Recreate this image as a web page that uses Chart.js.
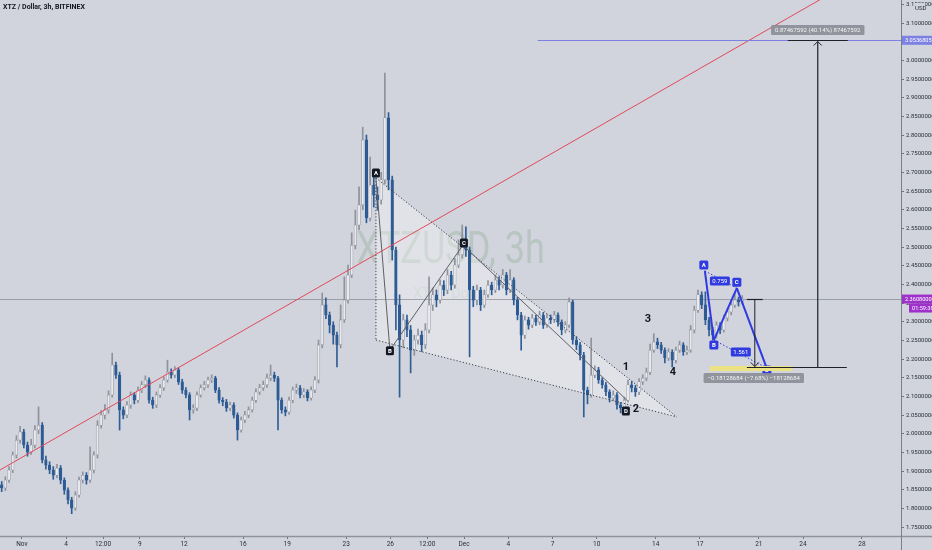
<!DOCTYPE html>
<html>
<head>
<meta charset="utf-8">
<script src="https://cdn.jsdelivr.net/npm/chart.js@4.4.0/dist/chart.umd.min.js"></script>
<style>
  html, body { margin: 0; padding: 0; background: #d1d4dc; overflow: hidden; }
  canvas { display: block; }
</style>
</head>
<body>
<canvas id="grafico" width="932" height="550"></canvas>
<script>
// XTZ / Dollar, velas de 6h (preços em USD)
const firstCandleDay = -0.375;   // dias contados a partir de 31 out
const candleStepDay = 0.25;

const opens = [1.863,1.855,1.876,1.903,1.943,1.983,2.005,1.970,1.951,1.970,
2.010,2.023,1.930,1.916,1.903,1.889,1.908,1.876,1.849,1.823,
1.801,1.836,1.876,1.889,1.876,1.903,1.943,2.023,2.050,2.064,
2.104,2.184,2.157,2.064,2.050,2.077,2.104,2.090,2.117,2.131,
2.144,2.090,2.077,2.104,2.123,2.144,2.165,2.157,2.171,2.139,
2.117,2.104,2.064,2.069,2.104,2.123,2.131,2.144,2.149,2.117,
2.090,2.085,2.069,2.077,2.050,2.010,2.037,2.050,2.064,2.090,
2.112,2.123,2.131,2.149,2.157,2.149,2.090,2.064,2.058,2.090,
2.117,2.123,2.104,2.112,2.096,2.117,2.144,2.238,2.345,2.318,
2.291,2.264,2.238,2.305,2.358,2.425,2.505,2.559,2.613,2.787,
2.578,2.666,2.639,2.626,2.680,2.846,2.680,2.492,2.345,2.251,
2.305,2.278,2.224,2.251,2.264,2.238,2.278,2.345,2.372,2.358,
2.398,2.385,2.425,2.398,2.452,2.479,2.519,2.492,2.385,2.358,
2.385,2.345,2.372,2.398,2.385,2.412,2.398,2.425,2.385,2.412,
2.358,2.318,2.264,2.305,2.291,2.310,2.299,2.318,2.291,2.310,
2.305,2.318,2.299,2.278,2.291,2.353,2.251,2.238,2.211,2.117,
2.104,2.157,2.171,2.144,2.131,2.112,2.096,2.104,2.077,2.069,
2.090,2.131,2.123,2.112,2.139,2.149,2.165,2.224,2.246,2.238,
2.224,2.203,2.219,2.197,2.224,2.238,2.219,2.224,2.278,2.331,
2.372,2.345,2.305,2.278,2.264,2.291,2.278,2.310,2.326,2.345,
2.358,2.353];

const highs = [1.872,1.885,1.912,1.951,1.995,2.020,2.012,1.978,1.985,2.022,
2.072,2.030,1.940,1.925,1.912,1.918,1.915,1.882,1.855,1.830,
1.845,1.884,1.898,1.896,1.965,1.952,2.035,2.062,2.078,2.115,
2.216,2.192,2.165,2.072,2.086,2.112,2.110,2.126,2.140,2.155,
2.150,2.098,2.112,2.132,2.152,2.197,2.174,2.180,2.176,2.146,
2.124,2.110,2.078,2.112,2.131,2.140,2.152,2.158,2.154,2.124,
2.097,2.092,2.085,2.083,2.056,2.045,2.060,2.072,2.098,2.120,
2.132,2.141,2.160,2.184,2.165,2.154,2.096,2.072,2.098,2.125,
2.133,2.130,2.121,2.118,2.126,2.153,2.251,2.377,2.364,2.326,
2.300,2.272,2.345,2.420,2.452,2.538,2.599,2.661,2.821,2.800,
2.741,2.698,2.661,2.700,2.966,2.860,2.690,2.500,2.372,2.320,
2.318,2.290,2.264,2.280,2.275,2.295,2.420,2.390,2.385,2.412,
2.410,2.440,2.435,2.470,2.519,2.559,2.554,2.500,2.395,2.398,
2.392,2.385,2.410,2.406,2.425,2.420,2.440,2.432,2.440,2.418,
2.365,2.325,2.315,2.312,2.320,2.318,2.328,2.325,2.320,2.318,
2.328,2.324,2.305,2.300,2.364,2.358,2.260,2.245,2.218,2.125,
2.256,2.182,2.178,2.150,2.138,2.118,2.115,2.110,2.084,2.098,
2.144,2.140,2.130,2.148,2.158,2.176,2.240,2.268,2.256,2.245,
2.230,2.228,2.225,2.232,2.248,2.244,2.235,2.290,2.342,2.385,
2.380,2.380,2.312,2.285,2.300,2.298,2.318,2.335,2.356,2.380,
2.366,2.370];

const lows = [1.845,1.848,1.870,1.896,1.935,1.975,1.962,1.940,1.945,1.962,
2.000,1.922,1.905,1.893,1.878,1.882,1.866,1.838,1.812,1.786,
1.795,1.830,1.868,1.865,1.870,1.895,1.935,2.015,2.040,2.055,
2.098,2.148,2.010,2.040,2.043,2.068,2.080,2.083,2.110,2.124,
2.082,2.068,2.070,2.097,2.116,2.138,2.149,2.150,2.132,2.108,
2.096,2.037,2.055,2.062,2.098,2.117,2.124,2.137,2.110,2.082,
2.075,2.060,2.062,2.042,1.983,2.004,2.030,2.043,2.058,2.084,
2.105,2.116,2.124,2.142,2.140,2.010,2.055,2.048,2.052,2.083,
2.108,2.096,2.097,2.088,2.090,2.110,2.136,2.230,2.308,2.270,
2.240,2.179,2.230,2.298,2.350,2.418,2.495,2.546,2.600,2.565,
2.570,2.607,2.599,2.615,2.670,2.653,2.465,2.278,2.098,2.230,
2.260,2.163,2.210,2.240,2.220,2.228,2.270,2.330,2.340,2.350,
2.370,2.375,2.385,2.390,2.445,2.470,2.475,2.206,2.340,2.345,
2.330,2.338,2.365,2.372,2.378,2.385,2.390,2.372,2.378,2.345,
2.305,2.224,2.255,2.280,2.284,2.290,2.292,2.282,2.285,2.295,
2.298,2.288,2.265,2.270,2.285,2.240,2.225,2.198,2.045,2.080,
2.098,2.150,2.135,2.122,2.102,2.085,2.088,2.066,2.056,2.060,
2.085,2.112,2.100,2.105,2.132,2.142,2.158,2.218,2.228,2.215,
2.190,2.196,2.179,2.190,2.218,2.210,2.212,2.218,2.270,2.325,
2.335,2.292,2.262,2.251,2.256,2.268,2.272,2.302,2.318,2.338,
2.342,2.348];

const closes = [1.855,1.876,1.903,1.943,1.983,2.005,1.970,1.951,1.970,2.010,
2.023,1.930,1.916,1.903,1.889,1.908,1.876,1.849,1.823,1.801,
1.836,1.876,1.889,1.876,1.903,1.943,2.023,2.050,2.064,2.104,
2.184,2.157,2.064,2.050,2.077,2.104,2.090,2.117,2.131,2.144,
2.090,2.077,2.104,2.123,2.144,2.165,2.157,2.171,2.139,2.117,
2.104,2.064,2.069,2.104,2.123,2.131,2.144,2.149,2.117,2.090,
2.085,2.069,2.077,2.050,2.010,2.037,2.050,2.064,2.090,2.112,
2.123,2.131,2.149,2.157,2.149,2.090,2.064,2.058,2.090,2.117,
2.123,2.104,2.112,2.096,2.117,2.144,2.238,2.345,2.318,2.291,
2.264,2.238,2.305,2.358,2.425,2.505,2.559,2.613,2.787,2.578,
2.666,2.639,2.626,2.680,2.846,2.680,2.492,2.345,2.251,2.305,
2.278,2.224,2.251,2.264,2.238,2.278,2.345,2.372,2.358,2.398,
2.385,2.425,2.398,2.452,2.479,2.519,2.492,2.385,2.358,2.385,
2.345,2.372,2.398,2.385,2.412,2.398,2.425,2.385,2.412,2.358,
2.318,2.264,2.305,2.291,2.310,2.299,2.318,2.291,2.310,2.305,
2.318,2.299,2.278,2.291,2.353,2.251,2.238,2.211,2.117,2.104,
2.157,2.171,2.144,2.131,2.112,2.096,2.104,2.077,2.069,2.090,
2.131,2.123,2.112,2.139,2.149,2.165,2.224,2.246,2.238,2.224,
2.203,2.219,2.197,2.224,2.238,2.219,2.224,2.278,2.331,2.372,
2.345,2.305,2.278,2.264,2.291,2.278,2.310,2.326,2.345,2.358,
2.353,2.361];

// eixos
const xTickDays = [1, 4, 6.5, 9, 12, 16, 19, 23, 26, 28.5, 31, 34, 37, 40, 44, 47, 51, 54, 58];
const xTickLabels = ['Nov','4','12:00','9','12','16','19','23','26','12:00','Dec','4','7','10','14','17','21','24','28'];
const yTicks = [1.75,1.80,1.85,1.90,1.95,2.00,2.05,2.10,2.15,2.20,2.25,2.30,2.35,2.40,2.45,
  2.50,2.55,2.60,2.65,2.70,2.75,2.80,2.85,2.90,2.95,3.00,3.05,3.10,3.15];

// desenhos do autor (dia, preço)
const trendLine = [[-0.49, 1.903], [60.65, 3.287]];
const targetLevel = 3.05368057;
const targetFromDay = 36.0;
const lastPrice = 2.3608;
const lastPriceText = '2.36080000';
const countdownText = '01:59:38';
const triangle = [[25.02, 2.685], [25.02, 2.251], [45.44, 2.045]];
const abcdPath = [[25.02, 2.685], [25.97, 2.224], [30.92, 2.505], [42.05, 2.090]];
const abcdTags = [['A', 25.02, 2.698], ['B', 25.97, 2.222], ['C', 30.99, 2.511], ['D', 41.98, 2.061]];
const waveTags = [['1', 41.98, 2.179], ['2', 42.66, 2.066], ['3', 43.47, 2.307], ['4', 45.17, 2.165]];
const bluePath = [[47.34, 2.436], [47.95, 2.251], [49.51, 2.390], [51.54, 2.176]];
const blueTags = [['A', 47.27, 2.452], ['B', 47.95, 2.238], ['C', 49.51, 2.406], ['D', 51.55, 2.171]];
const blueRatios = [['0.759', 48.36, 2.409], ['1.561', 49.78, 2.219]];
const dropTop = 2.3608, dropBottom = 2.1795;
const riseTop = 3.0542;
const dropText = '\u22120.18128684 (\u22127.68%) \u221218128684';
const riseText = '0.87467592 (40.14%) 87467592';

Chart.defaults.font.family = 'Roboto, "DejaVu Sans", sans-serif';

let times = [];
for (let i = 0; i < closes.length; i++) times.push(firstCandleDay + i * candleStepDay);

const wickData = times.map((t, i) => ({ x: t, y: [lows[i], highs[i]] }));
const bodyData = times.map((t, i) => ({ x: t, y: [opens[i], closes[i]] }));
const subiu = closes.map((c, i) => c >= opens[i]);

function seg(ctx, a, b, color, width, dash) {
    ctx.save();
    ctx.beginPath();
    ctx.strokeStyle = color;
    ctx.lineWidth = width;
    ctx.setLineDash(dash || []);
    ctx.moveTo(a.x, a.y);
    ctx.lineTo(b.x, b.y);
    ctx.stroke();
    ctx.restore();
}

function caixa(ctx, cx, cy, w, h, bg, text, fg, font) {
    ctx.save();
    ctx.fillStyle = bg;
    ctx.beginPath();
    ctx.roundRect(cx - w / 2, cy - h / 2, w, h, 1.5);
    ctx.fill();
    ctx.fillStyle = fg;
    ctx.font = font;
    ctx.textAlign = 'center';
    ctx.textBaseline = 'middle';
    ctx.fillText(text, cx, cy + 0.5);
    ctx.restore();
}

function seta(ctx, tip, dir, color) {
    ctx.save();
    ctx.strokeStyle = color;
    ctx.lineWidth = 1;
    ctx.beginPath();
    ctx.moveTo(tip.x - 4, tip.y - 4 * dir);
    ctx.lineTo(tip.x, tip.y);
    ctx.lineTo(tip.x + 4, tip.y - 4 * dir);
    ctx.stroke();
    ctx.restore();
}

const desenhos = {
    id: 'desenhos',
    beforeDraw(chart) {
        const ctx = chart.ctx;
        ctx.save();
        ctx.fillStyle = '#d1d4dc';
        ctx.fillRect(0, 0, chart.width, chart.height);
        ctx.restore();
    },
    beforeDatasetsDraw(chart) {
        const ctx = chart.ctx, a = chart.chartArea;
        const P = (t, p) => ({ x: chart.scales.x.getPixelForValue(t), y: chart.scales.y.getPixelForValue(p) });
        ctx.save();
        ctx.beginPath();
        ctx.rect(a.left, a.top, a.right - a.left, a.bottom - a.top);
        ctx.clip();

        // marca d'água
        ctx.fillStyle = 'rgba(105,150,105,0.24)';
        ctx.textAlign = 'center';
        ctx.textBaseline = 'alphabetic';
        ctx.save();
        ctx.translate((a.left + a.right) / 2, 263);
        ctx.scale(0.82, 1);
        ctx.font = '44px Roboto';
        ctx.fillText('XTZUSD, 3h', 0, 0);
        ctx.restore();
        ctx.fillStyle = 'rgba(105,150,105,0.16)';
        ctx.font = '14px Roboto';
        ctx.fillText('XTZ / Dollar', (a.left + a.right) / 2, 298);

        // triângulo sombreado
        const t0 = P(...triangle[0]), t1 = P(...triangle[1]), t2 = P(...triangle[2]);
        ctx.fillStyle = 'rgba(255,255,255,0.33)';
        ctx.beginPath();
        ctx.moveTo(t0.x, t0.y); ctx.lineTo(t1.x, t1.y); ctx.lineTo(t2.x, t2.y); ctx.closePath();
        ctx.fill();

        // linha do último preço
        const yl = Math.round(chart.scales.y.getPixelForValue(lastPrice)) + 0.5;
        seg(ctx, { x: a.left, y: yl }, { x: a.right, y: yl }, 'rgba(110,113,122,0.55)', 1);
        ctx.restore();
    },
    afterDatasetsDraw(chart) {
        const ctx = chart.ctx, a = chart.chartArea;
        const P = (t, p) => ({ x: chart.scales.x.getPixelForValue(t), y: chart.scales.y.getPixelForValue(p) });
        ctx.save();
        ctx.beginPath();
        ctx.rect(a.left, a.top, a.right - a.left, a.bottom - a.top);
        ctx.clip();

        // linha de tendência vermelha
        seg(ctx, P(...trendLine[0]), P(...trendLine[1]), '#e04a5a', 1);

        // alvo
        const yt = Math.round(chart.scales.y.getPixelForValue(targetLevel)) + 0.5;
        seg(ctx, { x: P(targetFromDay, 0).x, y: yt }, { x: a.right, y: yt }, '#7b80e2', 1);

        // triângulo pontilhado
        const t0 = P(...triangle[0]), t1 = P(...triangle[1]), t2 = P(...triangle[2]);
        seg(ctx, t0, t2, '#3a3d45', 1, [1.2, 2]);
        seg(ctx, t1, t2, '#3a3d45', 1, [1.2, 2]);
        seg(ctx, t0, t1, '#3a3d45', 1, [1.2, 2]);

        // ABCD cinza
        for (let i = 0; i < abcdPath.length - 1; i++) {
            seg(ctx, P(...abcdPath[i]), P(...abcdPath[i + 1]), '#5d6068', 1);
        }
        abcdTags.forEach(([s, t, p]) => {
            const q = P(t, p);
            caixa(ctx, q.x, q.y, 8, 9, '#131722', s, '#ffffff', 'bold 6px Roboto');
        });

        // ondas
        ctx.fillStyle = '#131722';
        ctx.font = 'bold 11px Roboto';
        ctx.textAlign = 'center';
        ctx.textBaseline = 'middle';
        waveTags.forEach(([s, t, p]) => {
            const q = P(t, p);
            ctx.fillText(s, q.x, q.y);
        });

        // padrão azul
        const azul = '#2f3ae0';
        seg(ctx, P(...bluePath[0]), P(...bluePath[2]), azul, 1, [1.5, 2]);
        seg(ctx, P(...bluePath[1]), P(...bluePath[3]), azul, 1, [1.5, 2]);
        for (let i = 0; i < bluePath.length - 1; i++) {
            seg(ctx, P(...bluePath[i]), P(...bluePath[i + 1]), azul, 2);
        }
        blueRatios.forEach(([s, t, p]) => {
            const q = P(t, p);
            caixa(ctx, q.x, q.y, 20, 9, azul, s, '#ffffff', '6px Roboto');
        });
        blueTags.forEach(([s, t, p]) => {
            const q = P(t, p);
            caixa(ctx, q.x, q.y, 9, 9, azul, s, '#ffffff', 'bold 6px Roboto');
        });

        // medição da queda
        const dTop = P(50.73, dropTop), dBot = P(50.73, dropBottom);
        const zoneA = P(47.68, 2.1815), zoneB = P(53.24, 2.168);
        ctx.fillStyle = '#ebe284';
        ctx.fillRect(zoneA.x, zoneA.y, zoneB.x - zoneA.x, zoneB.y - zoneA.y);
        const yb = Math.round(dBot.y) + 0.5;
        seg(ctx, { x: P(50.19, 0).x, y: yb }, { x: P(56.97, 0).x, y: yb }, '#1e2129', 1.2);
        const ytp = Math.round(dTop.y) + 0.5;
        seg(ctx, { x: P(50.19, 0).x, y: ytp }, { x: P(51.27, 0).x, y: ytp }, '#1e2129', 1.2);
        seg(ctx, { x: dTop.x, y: ytp }, { x: dTop.x, y: yb - 1 }, '#1e2129', 1);
        seta(ctx, { x: dTop.x, y: yb - 1 }, 1, '#1e2129');
        const lb = P(50.66, 2.149);
        ctx.font = '6px Roboto';
        const wDrop = ctx.measureText(dropText).width + 8;
        caixa(ctx, lb.x, lb.y, wDrop, 10, 'rgba(138,141,150,0.9)', dropText, '#f4f4f4', '6px Roboto');

        // medição da subida
        const rTop = P(55.0, riseTop), rBot = P(55.0, dropBottom);
        const yr = Math.round(rTop.y) + 0.5;
        seg(ctx, { x: P(52.97, 0).x, y: yr }, { x: P(57.04, 0).x, y: yr }, '#1e2129', 1.2);
        seg(ctx, { x: rTop.x, y: yr + 1 }, { x: rBot.x, y: yb }, '#2b2e36', 1.3);
        seta(ctx, { x: rTop.x, y: yr + 1 }, -1, '#1e2129');
        const lt = P(55.0, 3.0813);
        const wRise = ctx.measureText(riseText).width + 8;
        caixa(ctx, lt.x, lt.y, wRise, 10, 'rgba(138,141,150,0.9)', riseText, '#f4f4f4', '6px Roboto');
        ctx.restore();
    },
    afterDraw(chart) {
        const ctx = chart.ctx, a = chart.chartArea;
        // linhas dos eixos
        seg(ctx, { x: 0, y: a.bottom + 0.5 }, { x: chart.width, y: a.bottom + 0.5 }, '#8f929a', 1.5);
        seg(ctx, { x: a.right + 0.5, y: 0 }, { x: a.right + 0.5, y: chart.height }, '#7c7f87', 1);

        // etiquetas no eixo de preço
        const ys = chart.scales.y;
        const tag = (price, text, bg, x0) => {
            const y = ys.getPixelForValue(price);
            ctx.save();
            ctx.fillStyle = bg;
            ctx.fillRect(x0, y - 4.5, chart.width - x0, 9);
            ctx.fillStyle = '#ffffff';
            ctx.font = '5.6px Roboto';
            ctx.textAlign = 'left';
            ctx.textBaseline = 'middle';
            ctx.fillText(text, x0 + 3, y + 0.5);
            ctx.restore();
        };
        tag(targetLevel, targetLevel.toFixed(8), '#7b80e2', a.right + 1);
        tag(lastPrice, lastPriceText, '#9d31c9', a.right + 1);
        const yc = ys.getPixelForValue(lastPrice) + 9;
        ctx.save();
        ctx.fillStyle = '#9d31c9';
        ctx.fillRect(a.right + 8, yc - 4.5, chart.width - a.right - 8, 9);
        ctx.fillStyle = '#ffffff';
        ctx.font = '5.6px Roboto';
        ctx.textBaseline = 'middle';
        ctx.fillText(countdownText, a.right + 11, yc + 0.5);
        ctx.restore();

        // USD
        ctx.save();
        ctx.fillStyle = '#d1d4dc';
        ctx.fillRect(914, 3, 11, 8);
        ctx.fillStyle = '#2a2e39';
        ctx.font = '6px Roboto';
        ctx.textBaseline = 'middle';
        ctx.fillText('USD', 915, 8);
        ctx.restore();

        // título
        ctx.save();
        ctx.fillStyle = '#131722';
        ctx.font = 'bold 7px Roboto';
        ctx.textBaseline = 'middle';
        ctx.fillText('XTZ / Dollar, 3h, BITFINEX', 3, 7);
        ctx.restore();
    }
};

const ctx = document.getElementById('grafico').getContext('2d');
const grafico = new Chart(ctx, {
    type: 'bar',
    data: {
        datasets: [
            {
                label: 'pavio',
                data: wickData,
                backgroundColor: subiu.map(u => u ? '#8f929a' : '#2f5d96'),
                barThickness: 1,
                grouped: false,
                order: 2
            },
            {
                label: 'corpo',
                data: bodyData,
                backgroundColor: subiu.map(u => u ? '#e8eaef' : '#2d5b94'),
                borderColor: subiu.map(u => u ? '#8f929a' : '#2d5b94'),
                borderWidth: 0.6,
                borderSkipped: false,
                barThickness: 2.6,
                grouped: false,
                order: 1
            }
        ]
    },
    options: {
        responsive: false,
        animation: false,
        layout: { padding: 0 },
        plugins: { legend: { display: false }, tooltip: { enabled: false } },
        scales: {
            x: {
                type: 'linear',
                offset: false,
                min: -0.49,
                max: 60.65,
                afterBuildTicks: s => { s.ticks = xTickDays.map(v => ({ value: v })); },
                ticks: {
                    callback: (v, i) => xTickLabels[i],
                    autoSkip: false,
                    maxRotation: 0,
                    font: { size: 6.5 },
                    color: '#2a2e39',
                    padding: 1
                },
                grid: { offset: false, drawOnChartArea: false, tickLength: 3, color: '#6f727a' },
                border: { display: false },
                afterFit: s => { s.height = 14; s.paddingLeft = 0; s.paddingRight = 0; }
            },
            y: {
                position: 'right',
                min: 1.7262,
                max: 3.1616,
                afterBuildTicks: s => { s.ticks = yTicks.map(v => ({ value: v })); },
                ticks: {
                    callback: v => v.toFixed(8),
                    font: { size: 6 },
                    color: '#2a2e39',
                    padding: 2
                },
                grid: { drawOnChartArea: false, tickLength: 3, color: '#6f727a' },
                border: { display: false },
                afterFit: s => { s.width = 31; s.paddingTop = 0; s.paddingBottom = 0; }
            }
        }
    },
    plugins: [desenhos]
});
</script>
</body>
</html>
